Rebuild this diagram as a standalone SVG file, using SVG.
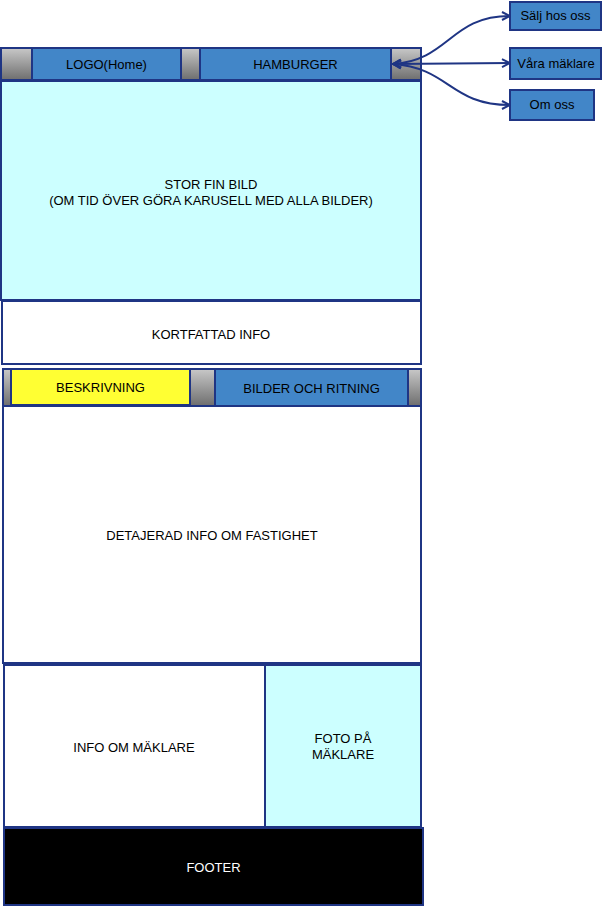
<svg xmlns="http://www.w3.org/2000/svg" width="602" height="906" viewBox="0 0 602 906">
<style>
.b{stroke:#1F3584;stroke-width:2}
.blue{fill:#4286C8}
.t{font-family:"Liberation Sans",Arial,sans-serif;font-size:13px;fill:#000;text-anchor:middle}
.c{fill:none;stroke:#1F3584;stroke-width:2}
</style>
<defs>
<linearGradient id="g" x1="0" y1="0" x2="0" y2="1"><stop offset="0" stop-color="#C8C8C8"/><stop offset="1" stop-color="#6E6E6E"/></linearGradient>
<marker id="a" viewBox="0 0 10 10" refX="9" refY="5" markerWidth="10" markerHeight="10" markerUnits="userSpaceOnUse" orient="auto-start-reverse"><path d="M1,1 L9,5 L1,9" fill="none" stroke="#1F3584" stroke-width="2"/></marker>
</defs>
<g id="topbar">
<rect x="1" y="48" width="420" height="32" fill="url(#g)" class="b"/>
</g>
<g id="logo"><rect x="32" y="48" width="149" height="32" class="blue b"/><text class="t" x="106.5" y="69">LOGO(Home)</text></g>
<g id="hamburger"><rect x="200" y="48" width="191" height="32" class="blue b"/><text class="t" x="295.5" y="69">HAMBURGER</text></g>
<g id="bild"><rect x="1" y="81" width="420" height="219" fill="#CCFFFF" class="b"/><text class="t" x="211" y="189">STOR FIN BILD</text><text class="t" x="211" y="205">(OM TID ÖVER GÖRA KARUSELL MED ALLA BILDER)</text></g>
<g id="kort"><rect x="2" y="301" width="419" height="63" fill="#FFFFFF" class="b"/><text class="t" x="211" y="339">KORTFATTAD INFO</text></g>
<g id="tabbar"><rect x="3" y="369" width="418" height="37" fill="url(#g)" class="b"/></g>
<g id="beskrivning"><rect x="11" y="369" width="179" height="36" fill="#FFFF33" class="b"/><text class="t" x="100.5" y="392">BESKRIVNING</text></g>
<g id="bilder"><rect x="215" y="369" width="193" height="37" class="blue b"/><text class="t" x="311.5" y="393">BILDER OCH RITNING</text></g>
<g id="detalj"><rect x="3" y="406" width="418" height="257" fill="#FFFFFF" class="b"/><text class="t" x="212" y="540">DETAJERAD INFO OM FASTIGHET</text></g>
<g id="maklare"><rect x="4" y="665" width="261" height="162" fill="#FFFFFF" class="b"/><text class="t" x="134" y="752">INFO OM MÄKLARE</text></g>
<g id="foto"><rect x="265" y="665" width="156" height="162" fill="#CCFFFF" class="b"/><text class="t" x="343" y="743">FOTO PÅ</text><text class="t" x="343" y="759">MÄKLARE</text></g>
<g id="footer"><rect x="4" y="828" width="419" height="77" fill="#000000" class="b"/><text class="t" x="213.5" y="872" style="fill:#FFFFFF">FOOTER</text></g>
<g id="salj"><rect x="510" y="2" width="91" height="28" class="blue b"/><text class="t" x="555.5" y="20">Sälj hos oss</text></g>
<g id="vara"><rect x="510" y="48" width="91" height="31" class="blue b"/><text class="t" x="556" y="68">Våra mäklare</text></g>
<g id="om"><rect x="510" y="90" width="84" height="30" class="blue b"/><text class="t" x="552" y="109">Om oss</text></g>
<g id="connectors">
<path class="c" d="M393,64 C450,60 450,16 510,16" marker-start="url(#a)" marker-end="url(#a)"/>
<path class="c" d="M393,64 L510,63" marker-start="url(#a)" marker-end="url(#a)"/>
<path class="c" d="M393,64 C450,68 450,105 510,105" marker-start="url(#a)" marker-end="url(#a)"/>
</g>
</svg>
